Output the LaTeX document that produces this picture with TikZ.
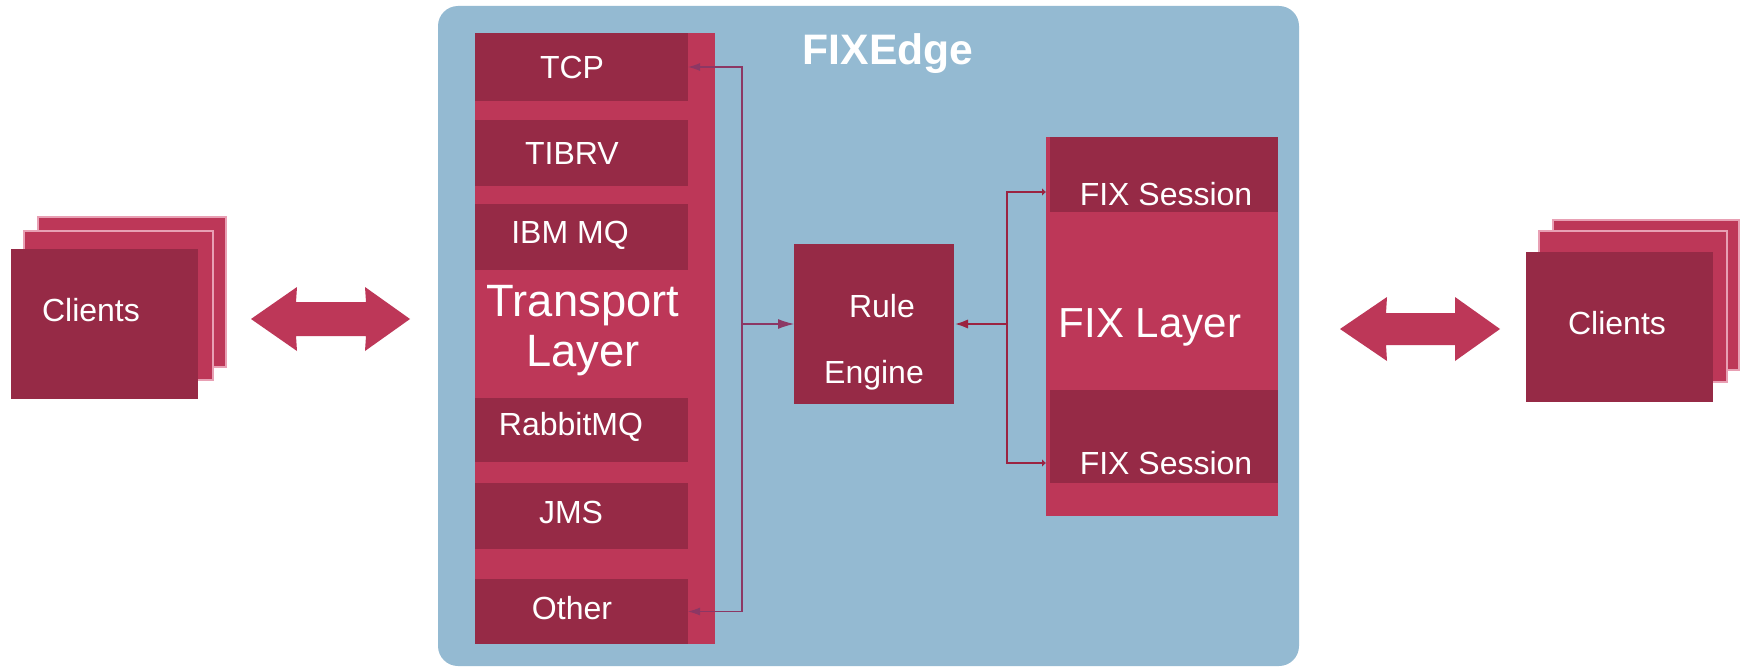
\documentclass[tikz,border=0pt]{standalone}
\usepackage{fontspec}
\setmainfont{Liberation Sans}
\usetikzlibrary{arrows.meta,fit,calc}
\definecolor{bgblue}{RGB}{148,186,210}
\definecolor{darkred}{RGB}{150,42,70}
\definecolor{lightred}{RGB}{189,55,88}
\definecolor{pinkline}{RGB}{232,160,180}
\definecolor{busline}{RGB}{140,55,100}
\definecolor{fixline}{RGB}{155,35,65}
\begin{document}
\begin{tikzpicture}[x=0.75pt,y=-0.75pt,
  box/.style={fill=darkred, draw=none, inner sep=0pt, outer sep=0pt},
  col/.style={fill=lightred, draw=none, inner sep=0pt, outer sep=0pt},
  stack/.style={fill=lightred, draw=pinkline, line width=1.2pt, inner sep=0pt, outer sep=0pt},
  lab/.style={text=white, font=\fontsize{24}{28}\selectfont, inner sep=0pt},
  bus/.style={draw=busline, line width=0.8pt},
  fixbus/.style={draw=fixline, line width=2.2pt},
  bigarrow/.style={fill=lightred, draw=none}
]
\useasboundingbox (0,0) rectangle (1742,667);
\fill[white] (0,0) rectangle (1742,667);
% FIXEdge container
\node[fill=bgblue, rounded corners=15pt, inner sep=0pt, fit={(438,6) (1299,666)}] (edge) {};
\node[text=white, font=\bfseries\fontsize{32}{36}\selectfont, inner sep=0pt] (title) at (888,54) {FIXEdge};
% Transport layer
\node[col, fit={(475,33) (715,644)},
  label={[lab, name=tltext, align=center, font=\fontsize{34}{37.5}\selectfont, shift={(-12,-7.5)}]center:Transport\\Layer}] (tcol) {};
\node[box, fit={(475,33) (688,101)}, label={[lab, shift={(-9.5,0)}]center:TCP}] (tcp) {};
\node[box, fit={(475,120) (688,186)}, label={[lab, shift={(-9.5,0)}]center:TIBRV}] (tibrv) {};
\node[box, fit={(475,204) (688,270)}, label={[lab, shift={(-11.5,-2)}]center:IBM MQ}] (ibmmq) {};
\node[box, fit={(475,398) (688,462)}, label={[lab, shift={(-10.5,-3)}]center:RabbitMQ}] (rabbit) {};
\node[box, fit={(475,483) (688,549)}, label={[lab, shift={(-10.5,-4)}]center:JMS}] (jms) {};
\node[box, fit={(475,579) (688,644)}, label={[lab, shift={(-9.5,-3.5)}]center:Other}] (other) {};
% Rule engine
\node[box, fit={(794,244) (954,404)},
  label={[lab, align=center, font=\fontsize{24}{49.5}\selectfont, shift={(0,18)}]center:\hspace*{12pt}Rule\\Engine}] (re) {};
% FIX layer
\node[col, fit={(1046,137) (1278,516)},
  label={[lab, font=\fontsize{31.5}{36}\selectfont, shift={(-12,1)}]center:FIX Layer}] (fcol) {};
\node[box, fit={(1050,137) (1278,212)}, label={[lab, shift={(2,19.5)}]center:FIX Session}] (fs1) {};
\node[box, fit={(1050,390) (1278,483)}, label={[lab, shift={(2,26.5)}]center:FIX Session}] (fs2) {};
% Clients left
\node[stack, fit={(38,217) (226,367)}] (lc3) {};
\node[stack, fit={(24,231) (213,380)}] (lc2) {};
\node[box, fit={(11,249) (198,399)}, label={[lab, shift={(-13.5,-14)}]center:Clients}] (lc1) {};
% Clients right
\node[stack, fit={(1553,220) (1739,370)}] (rc3) {};
\node[stack, fit={(1539,231) (1727,382)}] (rc2) {};
\node[box, fit={(1526,252) (1713,402)}, label={[lab, shift={(-2.5,-4)}]center:Clients}] (rc1) {};
% big double arrows
\fill[bigarrow] (251,319) -- (297,287) -- (296,302) -- (366,302) -- (365,287) -- (410,319)
  -- (365,351) -- (366,336) -- (296,336) -- (297,351) -- cycle;
\fill[bigarrow] (1340,329) -- (1387,297) -- (1386,313) -- (1455,313) -- (1455,297) -- (1500,329)
  -- (1455,361) -- (1455,345) -- (1386,345) -- (1387,361) -- cycle;
% transport bus
\coordinate (busx) at (742,0);
\draw[bus, {Latex[length=9pt,width=6pt]}-{Latex[length=9pt,width=6pt]}]
  (tcp.east) -- (tcp.east -| busx) -- (other.east -| busx) -- (other.east);
\draw[bus, -{Latex[length=12pt,width=7.5pt]}] (re.west -| busx) -- (re.west);
% FIX bus
\coordinate (fbusx) at (1007,0);
\coordinate (s1) at ($(fcol.west |- fs1.west)+(0,17.5)$);
\coordinate (s2) at ($(fcol.west |- fs2.west)+(0,26.5)$);
\draw[fixbus, {Latex[length=10.5pt,width=7pt]}-] (re.east) -- (re.east -| fbusx);
\draw[fixbus, {Latex[length=3pt,width=6pt]}-{Latex[length=3pt,width=6pt]}]
  (s1) -- (s1 -| fbusx) -- (s2 -| fbusx) -- (s2);
\end{tikzpicture}
\end{document}
